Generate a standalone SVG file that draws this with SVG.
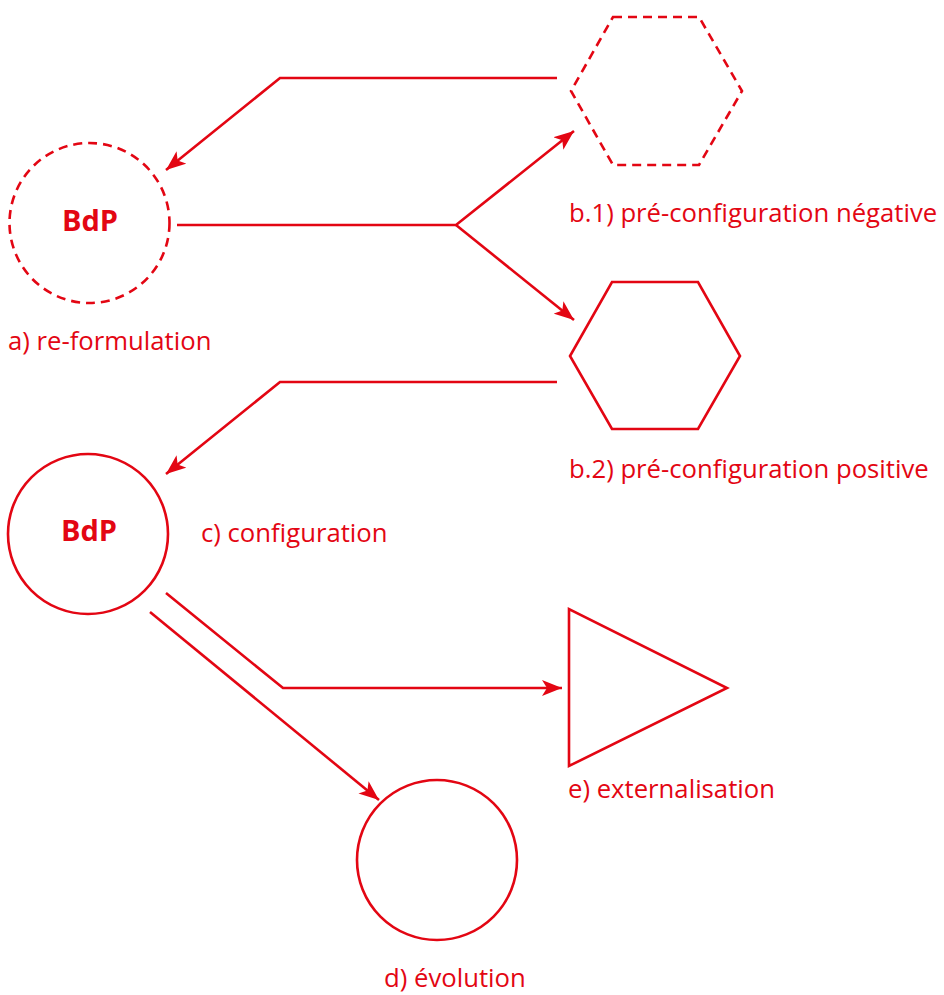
<svg xmlns="http://www.w3.org/2000/svg" width="944" height="995" viewBox="0 0 944 995">
<style>
.s{fill:none;stroke:#e30613;stroke-width:2.6}
.d{stroke-dasharray:9 6}
.l{font-family:"Open Sans","Liberation Sans",sans-serif;font-size:25.7px;fill:#e30613}
.b{font-family:"Open Sans","Liberation Sans",sans-serif;font-size:29px;font-weight:bold;fill:#e30613;text-anchor:middle}
</style>
<defs>
<marker id="ah" markerUnits="userSpaceOnUse" markerWidth="22" markerHeight="16" refX="20" refY="8" orient="auto" viewBox="0 0 22 16">
<path d="M0,0 L20,8 L0,16 L5,8 z" fill="#e30613"/>
</marker>
</defs>
<rect width="944" height="995" fill="#fff"/>
<g id="connectors">
<polyline class="s" points="557,78 280,78 166,170" marker-end="url(#ah)"/>
<polyline class="s" points="177,225 456,225 574,131" marker-end="url(#ah)"/>
<line class="s" x1="456" y1="225" x2="574" y2="320" marker-end="url(#ah)"/>
<polyline class="s" points="557,382 280,382 166,474" marker-end="url(#ah)"/>
<polyline class="s" points="166,593 283,688 562,688" marker-end="url(#ah)"/>
<line class="s" x1="150" y1="612" x2="379" y2="800" marker-end="url(#ah)"/>
</g>
<g id="a">
<circle class="s d" cx="89.5" cy="223" r="80"/>
<text class="b" x="90" y="231">BdP</text>
<text class="l" x="8" y="350">a) re-formulation</text>
</g>
<g id="b1">
<polygon class="s d" points="613,17 699,17 742,91 699,165 613,165 571,91"/>
<text class="l" x="569" y="222">b.1) pré-configuration négative</text>
</g>
<g id="b2">
<polygon class="s" points="612,282 698,282 740,356 698,429 612,429 570,356"/>
<text class="l" x="569" y="478">b.2) pré-configuration positive</text>
</g>
<g id="c">
<circle class="s" cx="88" cy="534" r="80"/>
<text class="b" x="89" y="541">BdP</text>
<text class="l" x="201" y="542">c) configuration</text>
</g>
<g id="e">
<polygon class="s" points="569,609 569,766 727,688"/>
<text class="l" x="568" y="798">e) externalisation</text>
</g>
<g id="d">
<circle class="s" cx="437" cy="860" r="80"/>
<text class="l" x="384" y="987">d) évolution</text>
</g>
</svg>
